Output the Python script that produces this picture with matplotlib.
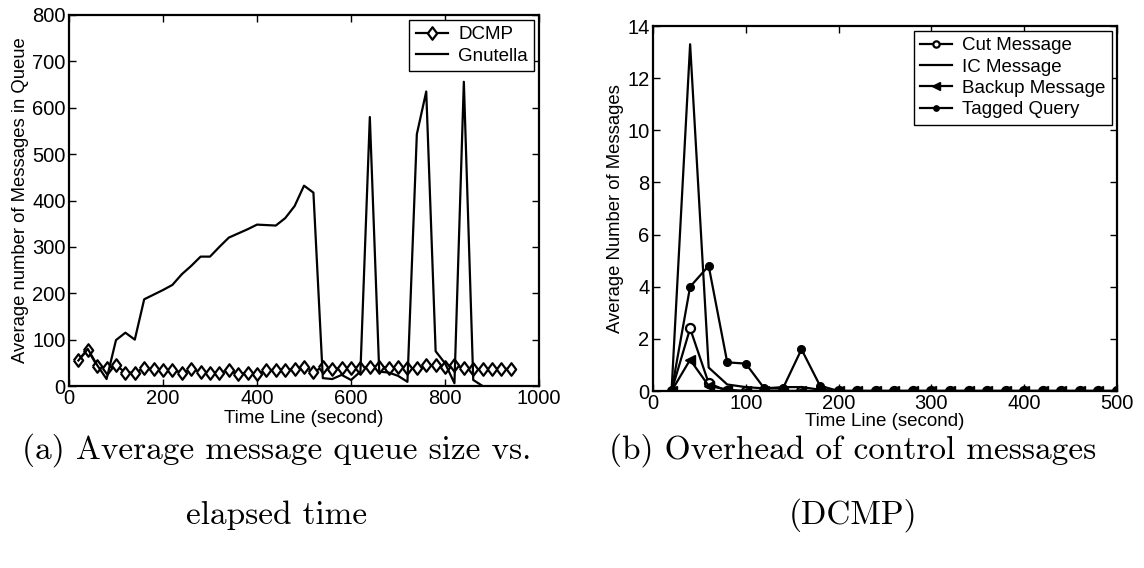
import numpy as np
import matplotlib
matplotlib.use('Agg')
import matplotlib.pyplot as plt

plt.rcParams['font.family'] = ['Liberation Sans', 'DejaVu Sans']

# (a) queue size
t_dcmp = list(range(20, 941, 20))
dcmp = [56, 78, 43, 38, 45, 29, 29, 38, 36, 35, 35, 29, 36, 31, 29, 29, 34, 25, 29, 26,
        34, 35, 35, 36, 42, 31, 40, 37, 38, 38, 38, 42, 42, 39, 42, 39, 38, 45, 45, 42,
        45, 39, 36, 36, 37, 37, 37]
t_gnu = list(range(20, 881, 20))
gnutella = [55, 80, 45, 15, 99, 115, 100, 187, 197, 207, 218, 241, 259, 279, 279, 300,
            320, 329, 338, 348, 347, 346, 362, 388, 432, 417, 17, 15, 24, 13, 31, 580,
            31, 29, 22, 9, 543, 635, 75, 49, 6, 656, 13, 0]

# (b) control messages
t_ctrl = list(range(20, 501, 20))
cut_msg = [0, 2.4, 0.3] + [0] * 22
ic_msg = [0, 13.3, 0.9, 0.25, 0.15, 0.1, 0.15, 0.15, 0.05] + [0] * 16
backup_msg = [0, 1.2, 0.2, 0.05] + [0] * 21
tagged = [0, 4.0, 4.8, 1.1, 1.05, 0.1, 0.1, 1.6, 0.2] + [0] * 16

fig = plt.figure(figsize=(11.44, 5.68), dpi=100)
ax1 = fig.add_axes([0.0603, 0.3204, 0.4109, 0.6532])
ax2 = fig.add_axes([0.5708, 0.3116, 0.4056, 0.6426])

diamond = [(-0.75, 0), (0, 1), (0.75, 0), (0, -1), (-0.75, 0)]
lw = 1.6
leg_kw = dict(loc='upper right', fontsize=13.5, frameon=True, fancybox=False,
              edgecolor='black', framealpha=1, handlelength=1.7, borderaxespad=0.25,
              labelspacing=0.22, borderpad=0.35, handletextpad=0.55)

ax1.plot(t_dcmp, dcmp, color='black', lw=lw, marker=diamond, markersize=9,
         markerfacecolor='white', markeredgewidth=1.6, label='DCMP')
ax1.plot(t_gnu, gnutella, color='black', lw=lw, label='Gnutella')
ax1.set_xlim(0, 1000)
ax1.set_ylim(0, 800)
ax1.set_xticks(range(0, 1001, 200))
ax1.set_yticks(range(0, 801, 100))
ax1.set_xlabel('Time Line (second)', fontsize=13.5)
ax1.set_ylabel('Average number of Messages in Queue', fontsize=13.3)
ax1.xaxis.set_label_coords(0.5, -0.064)
ax1.yaxis.set_label_coords(-0.086, 0.5)
ax1.legend(**leg_kw)

ax2.plot(t_ctrl, cut_msg, color='black', lw=lw, marker='o', markersize=6.5,
         markerfacecolor='white', markeredgewidth=1.6, label='Cut Message')
ax2.plot(t_ctrl, ic_msg, color='black', lw=lw, label='IC Message')
ax2.plot(t_ctrl, backup_msg, color='black', lw=lw, marker='<', markersize=7.5,
         label='Backup Message')
ax2.plot(t_ctrl, tagged, color='black', lw=lw, marker='o', markersize=5.5,
         label='Tagged Query')
ax2.set_xlim(0, 500)
ax2.set_ylim(0, 14)
ax2.set_xticks(range(0, 501, 100))
ax2.set_yticks(range(0, 15, 2))
ax2.set_xlabel('Time Line (second)', fontsize=13.5)
ax2.set_ylabel('Average Number of Messages', fontsize=13.3)
ax2.xaxis.set_label_coords(0.5, -0.06)
ax2.yaxis.set_label_coords(-0.063, 0.5)
ax2.legend(markerscale=0.7, **leg_kw)

for ax in (ax1, ax2):
    ax.tick_params(direction='in', top=True, right=True, labelsize=14.5, pad=2.5,
                   length=5, width=1)
    for s in ax.spines.values():
        s.set_linewidth(1.6)

cap = dict(fontfamily='cmr10', fontsize=24, ha='center', va='center')
fig.text(0.2421, 1 - 450 / 568, '(a) Average message queue size vs.', **cap)
fig.text(0.2421, 1 - 515 / 568, 'elapsed time', **cap)
fig.text(0.7456, 1 - 450 / 568, '(b) Overhead of control messages', **cap)
fig.text(0.7456, 1 - 515 / 568, '(DCMP)', **cap)

fig.savefig('out.png', dpi=100)
